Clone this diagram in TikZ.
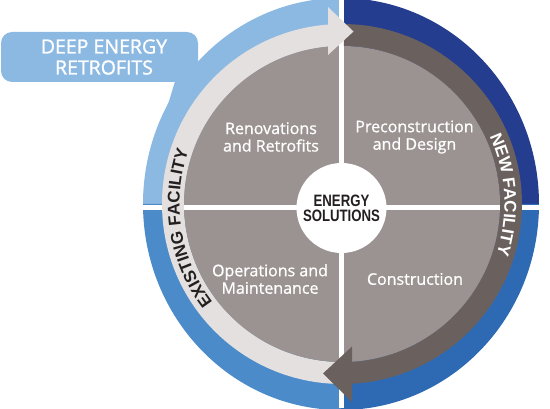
\documentclass[tikz,border=0pt]{standalone}
\usepackage{fontspec}
\setmainfont{Open Sans}
\newfontfamily\labelfont[FakeBold=0.9]{Open Sans}
\newfontfamily\tabfont[FakeBold=1.3]{Open Sans}
\newfontfamily\ringfont{Liberation Sans}
\newfontfamily\condfont[FakeStretch=0.8]{Liberation Sans}
\usetikzlibrary{decorations.text}
\definecolor{tabblue}{HTML}{8CB9E2}
\definecolor{navyblue}{HTML}{253D8F}
\definecolor{brblue}{HTML}{2E6AB4}
\definecolor{blblue}{HTML}{4B8BCA}
\definecolor{ringlight}{HTML}{E3E0DF}
\definecolor{ringdark}{HTML}{6A615E}
\definecolor{piegray}{HTML}{9B9391}
\definecolor{inktext}{HTML}{231F20}
\tikzset{
  quadlabel/.style={text=white, align=center, font=\labelfont\fontsize{16}{17.5}\selectfont, inner sep=0pt},
  tablabel/.style={text=white, align=center, font=\tabfont\fontsize{19.5}{21}\selectfont, inner sep=0pt},
  hublabel/.style={circle, fill=white, minimum size=90pt, inner sep=0pt, text=inktext, align=center, font=\condfont\bfseries\fontsize{16.5}{16}\selectfont},
  gapfill/.style={fill=white},
}
\begin{document}
\begin{tikzpicture}[x=1pt,y=1pt]
\useasboundingbox (0,0) rectangle (550,408);
\clip (0,0) rectangle (550,408);
\coordinate (C) at (342,204);
\coordinate (O) at (341,204);
% tab
\fill[tabblue, rounded corners=11] (1,326) rectangle (198,376);
\fill[tabblue] (175,326.5) -- (166,297) -- (198,297) -- (198,327) -- cycle;
% outer blue quadrants
\fill[tabblue] (O) -- ++(0,206) arc[start angle=90, end angle=180, x radius=198, y radius=206] -- cycle;
\fill[navyblue] (O) -- ++(198,0) arc[start angle=0, end angle=90, x radius=198, y radius=206] -- cycle;
\fill[brblue] (O) -- ++(0,-206) arc[start angle=270, end angle=360, x radius=198, y radius=206] -- cycle;
\fill[blblue] (O) -- ++(-198,0) arc[start angle=180, end angle=270, x radius=198, y radius=206] -- cycle;
\fill[gapfill] (339,0) rectangle (344,408);
\fill[gapfill] (138,198) rectangle (545,203);
% arrow shafts
\fill[ringlight] ([shift={(94:180)}]C) arc[start angle=94, end angle=269, radius=180] -- ([shift={(269:158)}]C) arc[start angle=269, end angle=94, radius=158] -- cycle;
\fill[ringdark] ([shift={(89.3:180)}]C) arc[start angle=89.3, end angle=-88, radius=180] -- ([shift={(-88:158)}]C) arc[start angle=-88, end angle=89.3, radius=158] -- cycle;
% pie
\fill[piegray] (C) circle[radius=158];
\begin{scope}
  \clip (C) circle[radius=158];
  \fill[gapfill] (339,0) rectangle (344,408);
  \fill[gapfill] (138,198) rectangle (545,203);
\end{scope}
% arrow heads
\fill[ringlight] (328,401) -- (353.5,376.5) -- (328,353) -- cycle;
\fill[ringdark] (352,61.5) -- (323,34.5) -- (352,6) -- cycle;
% hub
\node[hublabel] (hub) at (341.5,200) {ENERGY\\[-1pt]SOLUTIONS};
% ring texts
\path[decorate, decoration={text along path, text align=center, text color=inktext,
  text={|\ringfont\bfseries\fontsize{17}{17}\selectfont|EXISTING FACILITY}}]
  ([shift={(225:162.5)}]C) arc[start angle=225, end angle=153, radius=162.5];
\path[decorate, decoration={text along path, text align=center, text color=white,
  text={|\ringfont\bfseries\fontsize{17}{17}\selectfont|NEW FACILITY}}]
  ([shift={(38.4:162.5)}]C) arc[start angle=38.4, end angle=-31.6, radius=162.5];
% labels
\node[tablabel] (dert) at (104,351) {DEEP ENERGY\\RETROFITS};
\node[quadlabel] (reno) at (271,271) {Renovations\\and Retrofits};
\node[quadlabel] (precon) at (414.5,271) {Preconstruction\\and Design};
\node[quadlabel] (ops) at (270,129) {Operations and\\Maintenance};
\node[quadlabel] (constr) at (415,129) {Construction};
\end{tikzpicture}
\end{document}
